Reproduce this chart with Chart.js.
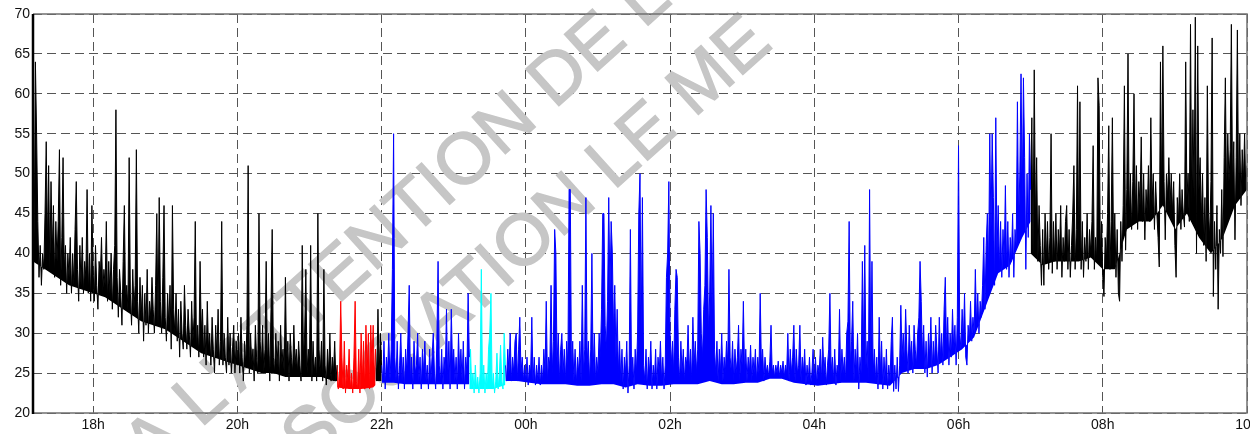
<!DOCTYPE html>
<html>
<head>
<meta charset="utf-8">
<script src="https://cdn.jsdelivr.net/npm/chart.js@4/dist/chart.umd.min.js"></script>
<style>
  html, body { margin: 0; padding: 0; background: #fff; }
  #wrap { width: 1250px; height: 434px; }
</style>
</head>
<body>
<div id="wrap"><canvas id="noiseChart" width="1250" height="434"></canvas></div>
<script>
// minutes relative to midnight, one reading per minute
const tickMinutes = [-360, -240, -120, 0, 120, 240, 360, 480, 600];
const tickLabels = ['18h', '20h', '22h', '00h', '02h', '04h', '06h', '08h', '10h'];
const watermarkLines = ["A L'ATTENTION DE L'", 'ASSOCIATION LE ME'];

// 17:10 -> 21:23
const blackEvening = [
  48, 42, 64, 55, 44, 37, 41, 36, 40, 38,
  45, 54, 41, 51, 38, 49, 40, 46, 37, 44,
  39, 44, 53, 36, 42, 52, 38, 41, 35, 40,
  37, 42, 35, 40, 36, 43, 49, 38, 34, 41,
  36, 42, 35, 39, 37, 48, 35, 40, 34, 46,
  38, 34, 41, 36, 33, 39, 37, 42, 35, 38,
  36, 44, 34, 39, 35, 40, 33, 38, 41, 58,
  37, 32, 38, 35, 31, 39, 46, 34, 36, 33,
  52, 35, 31, 38, 33, 36, 53, 34, 30, 37,
  32, 36, 29, 35, 31, 38, 30, 34, 32, 37,
  33, 30, 36, 45, 31, 47, 34, 30, 37, 46,
  32, 29, 35, 31, 36, 28, 46, 33, 30, 35,
  29, 33, 27, 34, 30, 28, 36, 31, 28, 33,
  30, 27, 34, 29, 32, 44, 28, 31, 27, 39,
  30, 33, 27, 31, 26, 34, 28, 30, 26, 32,
  28, 25, 31, 27, 33, 26, 29, 44, 26, 30,
  27, 25, 32, 26, 30, 25, 28, 31, 25, 29,
  26, 30, 25, 32, 27, 24, 29, 26, 31, 51,
  25, 30, 26, 28, 24, 31, 27, 25, 45, 29,
  26, 31, 25, 28, 39, 26, 30, 24, 33, 43,
  27, 25, 30, 26, 29, 24, 31, 26, 28, 25,
  37, 26, 29, 24, 30, 27, 25, 31, 26, 28,
  25, 29, 26, 24, 41, 27, 30, 38, 25, 28,
  26, 41, 24, 29, 25, 27, 24, 45, 28, 25,
  29, 24, 38, 26, 23.5, 28, 25, 30, 24, 27,
  25, 29, 24, 26
];
// 21:23 -> 21:55
const redEvening = [
  26, 23, 25, 34, 27, 23, 29, 22.5, 26, 24,
  28, 23, 25, 22.5, 27, 34, 24, 23, 28, 22.5,
  30, 24, 29, 23, 31, 25, 30, 23, 31, 26,
  31, 24, 28
];
// 21:55 -> 22:00
const blackGap = [28, 24, 33, 25, 30, 26];
// 22:00 -> 23:13
const blueLate = [
  26, 24, 29, 23, 27, 25, 30, 24, 28, 38,
  55, 27, 24, 29, 23, 26, 30, 24, 27, 23,
  28, 25, 30, 36, 24, 27, 23, 29, 25, 26,
  30, 24, 27, 23, 28, 25, 29, 24, 26, 23,
  28, 24, 27, 30, 25, 23, 29, 39, 26, 24,
  28, 23, 27, 25, 33, 24, 29, 23, 33, 26,
  28, 24, 27, 23, 30, 25, 28, 24, 29, 23,
  27, 25, 35, 27
];
// 23:13 -> 23:43
const cyanLate = [
  27, 28, 23, 25, 22.5, 26, 23, 24.5, 22.5, 25,
  38, 23, 26, 22.5, 25, 23, 28, 30, 35, 23,
  25, 22.5, 24, 27.5, 23, 25, 28.5, 24, 23, 30,
  26
];
// 23:43 -> 07:00
const blueNight = [
  26, 24, 28, 25, 30, 24, 27,
  25, 29, 30, 24, 28, 32, 25, 27, 24, 26,
  24, 27, 23.5, 26, 25, 32, 24, 27, 23.5, 26,
  24, 27, 23.5, 26, 24, 28, 25, 34, 24, 27,
  26, 36, 25, 29, 43, 40, 26, 30, 24, 28,
  30, 25, 28, 24, 29, 26, 48, 48, 25, 29,
  24, 28, 23.5, 27, 25, 29, 24, 36, 25, 28,
  47, 26, 29, 24, 28, 40, 25, 30, 24, 27,
  25, 30, 27, 33, 45, 45, 31, 28, 34, 47,
  35, 44, 40, 30, 36, 27, 33, 25, 29, 24,
  28, 23, 27, 25, 29, 22.5, 26, 43, 24, 27,
  23, 28, 25, 30, 45, 50, 30, 47, 26, 24,
  28, 23, 27, 25, 29, 23, 26, 24, 28, 23,
  27, 25, 29, 24, 27, 23, 26, 37, 40, 49,
  30, 26, 29, 25, 33, 38, 37, 27, 24, 29,
  25, 28, 24, 27, 26, 31, 25, 28, 24, 32,
  26, 29, 25, 28, 44, 40, 30, 27, 33, 36,
  48, 42, 30, 35, 46, 33, 45, 28, 25, 29,
  24, 28, 25, 30, 24, 27, 25, 29, 26, 38,
  27, 25, 29, 24, 28, 25, 27, 31, 24, 28,
  26, 34, 25, 28, 24, 27, 25, 28.5, 24, 27,
  25, 28, 24, 27, 25, 35, 26, 28, 24, 27,
  25, 26, 24.5, 26.5, 31, 25, 26, 24.5, 26, 25,
  26.5, 24.5, 26, 25, 26.5, 24.5, 26, 25, 30, 24,
  28, 25, 27, 31, 24, 28, 25, 26, 31, 24,
  27, 25, 28, 23.5, 26, 24, 27, 23.5, 25, 28,
  24, 27, 23.5, 26, 25, 28, 24, 29.5, 25, 27,
  23.5, 26, 28, 35, 25, 27, 24, 28, 23.5, 26,
  25, 33, 24, 28, 25, 27, 24, 30, 31.5, 44,
  26, 29, 34, 24, 28, 25, 30, 23, 27, 25,
  39, 28, 41, 26, 29, 24, 48, 27, 39, 25,
  28, 24, 27, 23, 32, 25, 29, 23, 27, 24,
  28, 23, 26, 24, 29, 32, 22.7, 26, 23, 27,
  22.7, 26, 33.5, 27, 30, 26, 33, 28, 25, 31,
  27, 29, 25, 31, 28, 26, 30, 32, 39, 34,
  27, 31, 25, 29, 24.5, 30, 27, 32, 25, 29,
  26, 31, 28, 25, 32, 27, 30, 26, 33, 37,
  28, 32, 26, 30, 27, 33, 28, 31, 26, 32,
  53.5, 30, 28, 33, 29, 35, 27, 26, 31, 29,
  34, 29, 32, 30, 38, 31, 35, 30, 34, 32,
  36, 42, 33, 41, 45, 38, 55, 43, 55, 47,
  36, 57, 40, 46, 38, 44, 37, 43, 39, 48.5,
  38, 44, 37, 42, 39, 45, 37, 43, 41, 59,
  44, 50, 62.5, 47, 62, 52, 38, 50, 42, 55,
  48
];
// 07:00 -> 10:00
const blackMorning = [
  48, 57, 40, 63, 44, 52, 39, 46, 41, 36,
  43, 36, 45, 39, 44, 38, 42, 55, 37.5, 44,
  39, 45, 38, 43, 40, 46, 37, 42, 39, 44,
  46, 38, 43, 37, 41, 45, 51, 38, 43, 61,
  40, 59, 38, 44, 37, 42, 39, 45, 38, 43,
  40, 44, 53.5, 38, 42, 39, 62, 58.5, 40, 44,
  37, 34.6, 42, 39, 45, 56, 38, 44, 57, 40,
  45, 37, 43, 35, 34, 44, 39, 46, 61, 40.4,
  48, 65, 44, 50, 43, 49, 60, 45, 51, 43,
  49, 46, 54.6, 44, 50, 41.7, 48, 45, 51, 44,
  57, 46, 50, 43, 49, 45, 42, 38.3, 64, 47,
  66, 49, 41.7, 50, 47, 52, 46, 50, 45, 49,
  41, 37, 47, 44, 50, 43, 48, 45, 43.3, 64,
  47, 50, 44, 68.7, 46, 58, 47, 69.6, 40, 66,
  48, 52, 44, 50, 41, 47, 39, 61, 45, 42,
  49, 67, 34.6, 44, 38, 46, 33, 43, 40, 48,
  39.6, 52, 62, 47, 55, 49, 53, 68.7, 48, 54,
  41.7, 52, 68, 47, 55, 46, 53, 49, 55, 48,
  51
];

// background noise floor under each trace, read every 10 minutes (last point = end of segment)
const blackEveningFloor = [39, 38, 37, 36, 35.5, 35, 34.5, 33.5, 32.5, 31.5, 31, 30.5, 29.5, 28.5, 27.5, 27, 26.5, 26, 25.5, 25, 25, 24.5, 24.5, 24.5, 24.5, 24, 24];
const redFloor = [23.2, 23, 23, 23.2, 23.5];
const gapFloor = [24, 24];
const blueLateFloor = [23.8, 23.8, 23.6, 23.6, 23.6, 23.6, 23.6, 23.6, 23.6];
const cyanFloor = [23, 23, 23, 23.5];
const blueNightFloor = [24, 24, 23.8, 23.6, 23.6, 23.6, 23.4, 23.4, 23.6, 23.6, 23.2, 23.6, 23.4, 23.4, 23.6, 23.6, 23.6, 24, 23.6, 23.6, 23.8, 23.8, 24.3, 24.3, 23.8, 23.6, 23.4, 23.6, 23.8, 23.8, 23.8, 23.6, 23.4, 25, 25.5, 25.5, 26, 27, 28, 29.5, 33.5, 37.5, 38.5, 42, 44];
const blackMorningFloor = [40, 38.5, 39, 39, 39, 39.5, 38, 38, 43, 44, 44, 46, 43, 45, 42, 40, 42, 46, 48];

const segments = [
  { values: blackEvening, floor: blackEveningFloor, start: -410, color: '#000000' },
  { values: redEvening, floor: redFloor, start: -157, color: '#ff0000' },
  { values: blackGap, floor: gapFloor, start: -125, color: '#000000' },
  { values: blueLate, floor: blueLateFloor, start: -120, color: '#0000ff' },
  { values: cyanLate, floor: cyanFloor, start: -47, color: '#00ffff' },
  { values: blueNight, floor: blueNightFloor, start: -17, color: '#0000ff' },
  { values: blackMorning, floor: blackMorningFloor, start: 420, color: '#000000' }
];

const font = { family: "'Liberation Sans', Arial, sans-serif", size: 14 };

const datasets = [];
segments.forEach(s => {
  const end = s.start + s.values.length - 1;
  datasets.push({
    data: s.floor.map((v, i) => ({ x: Math.min(s.start + i * 10, end), y: v })),
    borderWidth: 0,
    pointRadius: 0,
    fill: false
  });
  datasets.push({
    data: s.values.map((v, i) => ({ x: s.start + i, y: v })),
    borderColor: s.color,
    backgroundColor: s.color,
    borderWidth: 1,
    pointRadius: 0,
    tension: 0,
    fill: '-1'
  });
});

const watermark = {
  id: 'watermark',
  beforeDatasetsDraw(chart) {
    const ctx = chart.ctx;
    const ang = -42 * Math.PI / 180;
    const starts = [[150, 474], [237, 530]];
    ctx.save();
    ctx.fillStyle = '#c6c6c6';
    ctx.strokeStyle = '#c6c6c6';
    ctx.lineWidth = 1.5;
    ctx.font = "72px 'Liberation Sans', Arial, sans-serif";
    ctx.textBaseline = 'alphabetic';
    watermarkLines.forEach((txt, i) => {
      ctx.save();
      ctx.translate(starts[i][0], starts[i][1]);
      ctx.rotate(ang);
      ctx.fillText(txt, 0, 0);
      ctx.strokeText(txt, 0, 0);
      ctx.restore();
    });
    ctx.restore();
  }
};

const frame = {
  id: 'frame',
  afterDraw(chart) {
    const { ctx, chartArea: a } = chart;
    ctx.save();
    ctx.strokeStyle = '#707070';
    ctx.lineWidth = 1.5;
    ctx.beginPath();
    ctx.moveTo(a.left, a.top); ctx.lineTo(a.right, a.top);
    ctx.lineTo(a.right, a.bottom); ctx.lineTo(a.left, a.bottom);
    ctx.stroke();
    ctx.strokeStyle = '#000';
    ctx.lineWidth = 2.5;
    ctx.beginPath();
    ctx.moveTo(a.left, a.top); ctx.lineTo(a.left, a.bottom + 1);
    ctx.stroke();
    ctx.restore();
  }
};

new Chart(document.getElementById('noiseChart'), {
  type: 'line',
  data: { datasets: datasets },
  options: {
    responsive: false,
    animation: false,
    devicePixelRatio: 1,
    layout: { autoPadding: false, padding: { top: 14, right: 3, left: 0, bottom: 0 } },
    plugins: { legend: { display: false }, tooltip: { enabled: false } },
    scales: {
      x: {
        type: 'linear',
        min: -410,
        max: 600,
        afterBuildTicks: s => { s.ticks = tickMinutes.map(v => ({ value: v })); },
        afterFit: s => { s.height = 21; s.paddingLeft = 0; s.paddingRight = 0; },
        ticks: {
          autoSkip: false,
          maxRotation: 0,
          padding: 4,
          color: '#111',
          font: font,
          callback: v => tickLabels[tickMinutes.indexOf(v)]
        },
        grid: { color: '#555', lineWidth: 1, drawTicks: false },
        border: { display: false, dash: [9, 5] }
      },
      y: {
        min: 20,
        max: 70,
        afterFit: s => { s.width = 33; s.paddingTop = 0; s.paddingBottom = 0; },
        ticks: { stepSize: 5, padding: 3, color: '#111', font: font },
        grid: { color: '#555', lineWidth: 1, drawTicks: false },
        border: { display: false, dash: [9, 5] }
      }
    }
  },
  plugins: [watermark, frame]
});
</script>
</body>
</html>
